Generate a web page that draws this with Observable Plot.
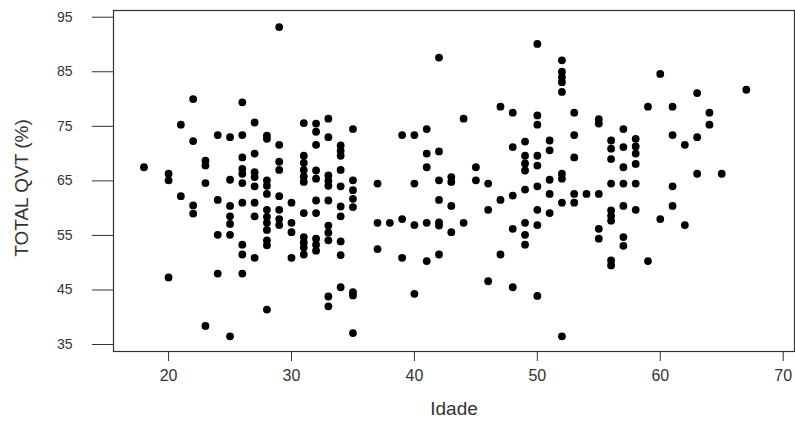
<!DOCTYPE html>
<html><head><meta charset="utf-8">
<script src="https://cdn.jsdelivr.net/npm/d3@7"></script>
<script src="https://cdn.jsdelivr.net/npm/@observablehq/plot@0.6"></script>
<style>
body{margin:0;background:#fff;}
#chart svg{font-family:Arial,"Liberation Sans",sans-serif;background:#fff;}
</style></head>
<body><div id="chart"></div>
<script>
const idade = [
18,
20,20,20,
21,21,
22,22,22,22,
23,23,23,23,
24,24,24,24,
25,25,25,25,25,25,25,
26,26,26,26,26,26,26,26,26,26,
27,27,27,27,27,27,27,27,
28,28,28,28,28,28,28,28,28,28,28,28,
29,29,29,29,29,29,29,29,
30,30,30,30,
31,31,31,31,31,31,31,31,31,31,31,
32,32,32,32,32,32,32,32,32,32,
33,33,33,33,33,33,33,33,33,33,33,
34,34,34,34,34,34,34,34,34,34,
35,35,35,35,35,35,35,35,
37,37,37,
38,
39,39,39,
40,40,40,40,
41,41,41,41,41,
42,42,42,42,42,42,42,
43,43,43,43,
44,44,
45,45,
46,46,46,
47,47,47,
48,48,48,48,48,
49,49,49,49,49,49,49,49,
50,50,50,50,50,50,50,50,50,
51,51,51,51,51,
52,52,52,52,52,52,52,52,52,
53,53,53,53,53,
54,
55,55,55,55,55,
56,56,56,56,56,56,56,56,56,
57,57,57,57,57,57,57,
58,58,58,58,58,58,
59,59,
60,60,
61,61,61,61,
62,62,
63,63,63,
64,64,
65,
67
];
const qvt = [
67.5,
66.3,65.1,47.3,
75.3,62.2,
80.0,72.3,60.5,59.0,
68.7,67.8,64.6,38.4,
73.4,61.5,55.1,48.0,
73.0,65.2,60.4,58.5,57.1,55.1,36.5,
79.4,73.4,69.3,67.2,66.3,64.6,61.0,53.3,51.5,48.0,
75.7,70.0,66.6,65.7,64.0,61.0,58.5,50.9,
73.3,72.7,65.1,64.1,62.6,59.7,58.4,57.3,56.0,54.1,53.2,41.4,
93.2,71.6,68.5,67.0,62.2,59.7,58.0,56.9,
61.0,57.3,55.6,50.9,
75.6,69.6,68.3,67.0,65.8,64.8,59.1,54.7,53.7,52.8,51.5,
75.5,74.0,71.6,66.9,65.4,61.4,59.1,54.4,53.3,52.2,
76.4,73.0,66.0,65.0,64.1,61.4,56.8,55.5,54.1,43.8,42.0,
71.5,70.5,69.6,67.0,64.0,60.3,58.5,53.9,51.4,45.5,
74.5,65.1,63.3,61.7,60.2,44.6,44.0,37.1,
64.5,57.3,52.5,
57.3,
73.4,58.0,50.9,
73.4,64.5,56.9,44.3,
74.5,70.0,67.5,57.3,50.3,
87.6,70.4,65.1,61.5,57.4,56.8,51.5,
65.7,64.8,60.4,55.6,
76.4,57.3,
67.5,65.1,
64.5,59.7,46.6,
78.6,61.5,51.5,
77.5,71.2,62.3,56.2,45.5,
72.2,69.6,68.2,66.9,63.4,57.3,55.1,53.3,
90.1,77.0,75.3,69.6,67.8,64.0,59.7,56.9,43.9,
72.4,70.6,65.2,62.6,59.1,
87.1,85.0,84.0,83.1,81.3,66.3,65.4,61.0,36.5,
77.5,73.4,69.3,62.6,61.0,
62.6,
76.3,75.5,62.6,56.2,54.4,
72.4,70.9,69.0,64.5,59.6,58.6,57.7,50.4,49.5,
74.5,71.2,67.5,64.5,60.4,54.7,53.1,
72.7,71.3,70.0,68.1,64.5,59.7,
78.6,50.3,
84.6,58.0,
78.6,73.4,64.0,60.4,
71.6,56.9,
81.1,73.0,66.3,
77.5,75.3,
66.3,
81.7
];
const xTicks = [20, 30, 40, 50, 60, 70];
const yTicks = [35, 45, 55, 65, 75, 85, 95];
const xTitle = "Idade";
const yTitle = "TOTAL QVT (%)";

const data = idade.map((a, i) => ({idade: a, qvt: qvt[i]}));

const chart = Plot.plot({
  width: 795,
  height: 421,
  marginLeft: 113,
  marginRight: 1,
  marginTop: 10,
  marginBottom: 70,
  x: {domain: [15.52, 70.92]},
  y: {domain: [33.72, 96.23]},
  marks: [
    Plot.frame({stroke: "#333", strokeWidth: 1.2}),
    Plot.axisY({ticks: yTicks, tickSize: 21, tickPadding: 20, label: null, stroke: "#333", fill: "#333", fontSize: 14}),
    Plot.axisX({ticks: xTicks, tickSize: 10, tickPadding: 8, label: null, stroke: "#333", fill: "#333", fontSize: 16}),
    Plot.dot(data, {x: "idade", y: "qvt", r: 3.9, fill: "black", stroke: null}),
    Plot.text([yTitle], {frameAnchor: "left", textAnchor: "middle", lineAnchor: "middle", dx: -92, dy: 7, rotate: -90, fontSize: 19, fill: "#333"}),
    Plot.text([xTitle], {frameAnchor: "bottom", textAnchor: "middle", lineAnchor: "middle", dy: 57, fontSize: 19, fill: "#333"})
  ]
});
document.getElementById("chart").appendChild(chart);
</script>
</body></html>
